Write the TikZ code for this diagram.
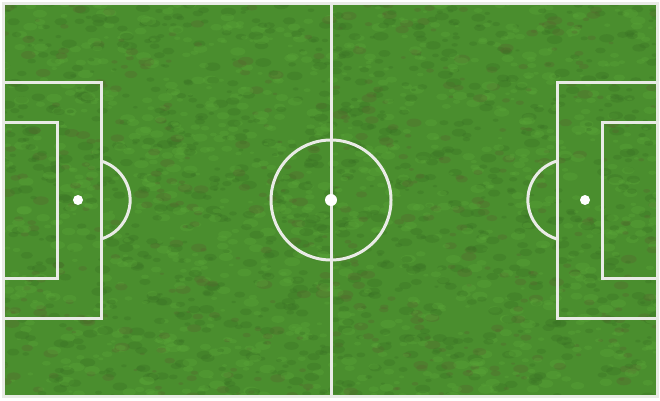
\documentclass[tikz,border=0pt]{standalone}
\usepackage{tikz}
\definecolor{GrassBase}{HTML}{4A8E2E}
\definecolor{GrassDark}{HTML}{3A7225}
\definecolor{GrassLight}{HTML}{5AA537}
\definecolor{GrassBrown}{HTML}{58662F}
\definecolor{ChalkWhite}{HTML}{E9EBE6}

\begin{document}
\begin{tikzpicture}[
    x=1pt, y=1pt,
    pitchline/.style={draw=ChalkWhite, line width=3pt},
    spotdot/.style={fill=white}
]
  \useasboundingbox (0,0) rectangle (660,400);
  \fill[white] (0,0) rectangle (660,400);

  % grass
  \begin{scope}
    \clip (3,3) rectangle (657,397);
    \fill[GrassBase] (0,0) rectangle (660,400);
    \pgfmathsetseed{7}
    \pgfmathdeclarerandomlist{grass}{{GrassDark}{GrassLight}{GrassDark}{GrassLight}{GrassBrown}}
    \foreach \i in {1,...,2600}{
      \pgfmathsetmacro{\gx}{660*rnd}
      \pgfmathsetmacro{\gy}{400*rnd}
      \pgfmathsetmacro{\gr}{2+6*rnd}
      \pgfmathrandomitem{\gcol}{grass}
      \fill[\gcol, opacity=0.35] (\gx,\gy) ellipse [x radius=\gr pt, y radius=0.55*\gr pt];
    }
  \end{scope}

  % outer lines and halfway line
  \draw[pitchline] (3,4) rectangle (657,396);
  \coordinate (midtop) at (331,396);
  \coordinate (midbot) at (331,4);
  \draw[pitchline] (midtop) -- (midbot);

  % centre circle
  \coordinate (kickoff) at (331,200);
  \draw[pitchline] (kickoff) circle [radius=60pt];
  \fill[spotdot] (kickoff) circle [radius=6pt];

  % left end
  \draw[pitchline] (3,318) -- (101,318) -- (101,82) -- (3,82);
  \draw[pitchline] (3,278) -- (57,278) -- (57,122) -- (3,122);
  \coordinate (spotL) at (78,200);
  \fill[spotdot] (spotL) circle [radius=5pt];
  \draw[pitchline] (101,239) arc [start angle=73.5, end angle=-73.5, radius=40.7pt];

  % right end
  \draw[pitchline] (657,318) -- (557,318) -- (557,82) -- (657,82);
  \draw[pitchline] (657,278) -- (602,278) -- (602,122) -- (657,122);
  \coordinate (spotR) at (585,200);
  \fill[spotdot] (spotR) circle [radius=5pt];
  \draw[pitchline] (557,239) arc [start angle=106.5, end angle=253.5, radius=40.7pt];
\end{tikzpicture}
\end{document}
